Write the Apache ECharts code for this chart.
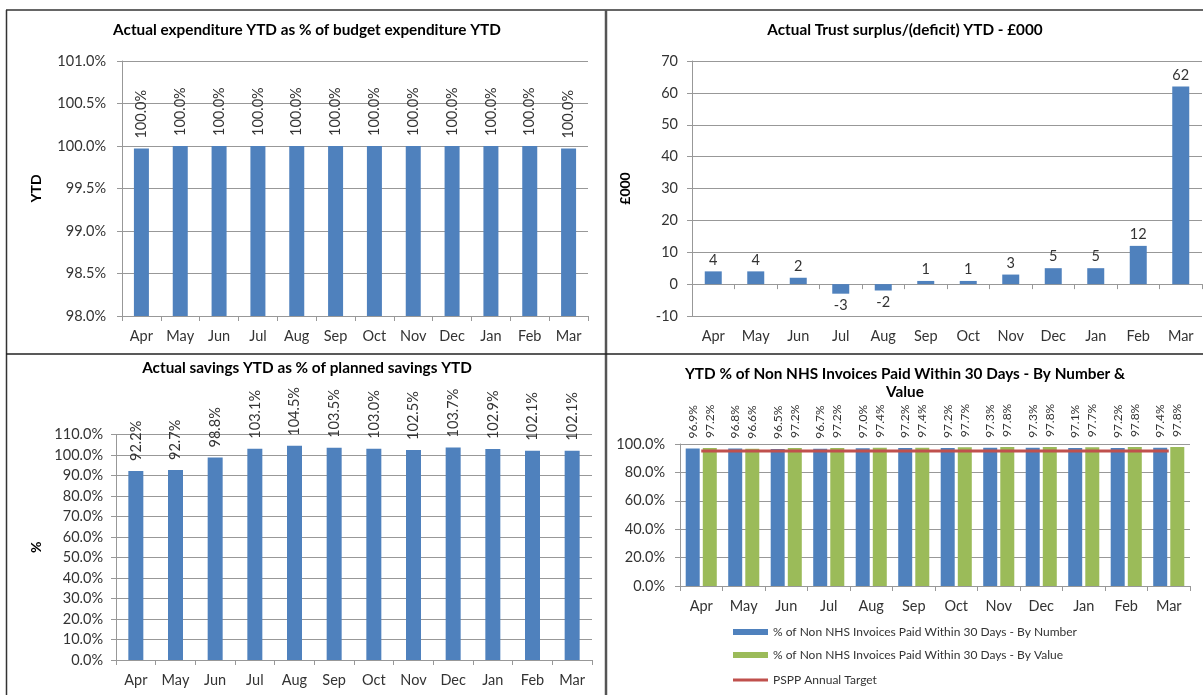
<!DOCTYPE html>
<html>
<head>
<meta charset="utf-8">
<title>Finance dashboard</title>
<script src="https://cdn.jsdelivr.net/npm/echarts@6/dist/echarts.min.js"></script>
<style>
  html, body { margin: 0; padding: 0; background: #ffffff; }
  #chart { width: 1203px; height: 695px; }
</style>
</head>
<body>
<div id="chart"></div>
<script>
// Months of the financial year
const months = ['Apr', 'May', 'Jun', 'Jul', 'Aug', 'Sep', 'Oct', 'Nov', 'Dec', 'Jan', 'Feb', 'Mar'];

// Actual expenditure YTD as % of budget expenditure YTD
const expenditurePct = [99.97, 100.0, 100.0, 100.0, 100.0, 100.0, 100.0, 100.0, 100.0, 100.0, 100.0, 99.97];

// Actual Trust surplus/(deficit) YTD, £000
const surplus = [4, 4, 2, -3, -2, 1, 1, 3, 5, 5, 12, 62];

// Actual savings YTD as % of planned savings YTD
const savingsPct = [92.2, 92.7, 98.8, 103.1, 104.5, 103.5, 103.0, 102.5, 103.7, 102.9, 102.1, 102.1];

// Non NHS invoices paid within 30 days (YTD %)
const invoicesByNumber = [96.9, 96.8, 96.5, 96.7, 97.0, 97.2, 97.2, 97.3, 97.3, 97.1, 97.2, 97.4];
const invoicesByValue = [97.2, 96.6, 97.2, 97.2, 97.4, 97.4, 97.7, 97.8, 97.8, 97.7, 97.8, 97.8];
const psppTarget = [95, 95, 95, 95, 95, 95, 95, 95, 95, 95, 95, 95];

const SERIES_NUMBER = '% of Non NHS Invoices Paid Within 30 Days - By Number';
const SERIES_VALUE = '% of Non NHS Invoices Paid Within 30 Days - By Value';
const SERIES_TARGET = 'PSPP Annual Target';

const FONT = 'Lato, "Open Sans", sans-serif';
const BLUE = '#4F81BD';
const GREEN = '#9BBB59';
const RED = '#C0504D';
const GRID_GRAY = '#989898';
const TEXT = '#333333';
const AXIS_FS = 14.5;

const pct1 = v => v.toFixed(1) + '%';

function catAxis(gridIndex, extra) {
  return Object.assign({
    type: 'category',
    gridIndex: gridIndex,
    data: months,
    boundaryGap: true,
    axisLine: { show: true, onZero: false, lineStyle: { color: GRID_GRAY, width: 1 } },
    axisTick: { show: true, length: 5, lineStyle: { color: GRID_GRAY } },
    axisLabel: { fontFamily: FONT, fontSize: AXIS_FS, color: TEXT, margin: 13, interval: 0 },
    splitLine: { show: false }
  }, extra || {});
}

function valAxis(gridIndex, min, max, interval, fmt, name, nameGap, margin) {
  return {
    type: 'value',
    gridIndex: gridIndex,
    min: min, max: max, interval: interval,
    name: name,
    nameLocation: 'middle',
    nameRotate: 90,
    nameGap: nameGap,
    nameTextStyle: { fontFamily: FONT, fontSize: 14, fontWeight: 'bold', color: '#000' },
    axisLine: { show: true, lineStyle: { color: GRID_GRAY, width: 1 } },
    axisTick: { show: true, length: 5, lineStyle: { color: GRID_GRAY } },
    axisLabel: { fontFamily: FONT, fontSize: AXIS_FS, color: TEXT, margin: margin, formatter: fmt },
    splitLine: { show: true, lineStyle: { color: GRID_GRAY, width: 1 } }
  };
}

function rotatedLabel(fontSize, distance) {
  return {
    show: true,
    position: 'top',
    rotate: 90,
    align: 'left',
    verticalAlign: 'middle',
    distance: distance,
    fontFamily: FONT,
    fontSize: fontSize,
    color: TEXT,
    formatter: p => pct1(p.value)
  };
}

// Surplus bars: labels sit above positive bars and below negative ones
const surplusData = surplus.map(v => ({
  value: v,
  label: { position: v < 0 ? 'bottom' : 'top' }
}));

const titleStyle = { fontFamily: FONT, fontSize: 15.3, fontWeight: 'bold', color: '#000' };

function legendFor(name, top, itemHeight) {
  return {
    orient: 'vertical',
    left: 733,
    top: top,
    padding: 0,
    itemWidth: 35,
    itemHeight: itemHeight,
    icon: 'rect',
    textStyle: { fontFamily: FONT, fontSize: 12, color: TEXT, lineHeight: 14 },
    data: [name]
  };
}

const option = {
  animation: false,
  backgroundColor: '#ffffff',
  title: [
    { text: 'Actual expenditure YTD as % of budget expenditure YTD', left: 307, top: 23, padding: 0, textAlign: 'center', textStyle: titleStyle },
    { text: 'Actual Trust surplus/(deficit) YTD - £000', left: 905, top: 23, padding: 0, textAlign: 'center', textStyle: titleStyle },
    { text: 'Actual savings YTD as % of planned savings YTD', left: 307, top: 361, padding: 0, textAlign: 'center', textStyle: titleStyle },
    { text: 'YTD % of Non NHS Invoices Paid Within 30 Days - By Number &\nValue', left: 905, top: 365, padding: 0, textAlign: 'center',
      textStyle: Object.assign({ lineHeight: 18 }, titleStyle) }
  ],
  legend: [
    legendFor(SERIES_NUMBER, 625, 6),
    legendFor(SERIES_VALUE, 648, 6),
    legendFor(SERIES_TARGET, 673, 3)
  ],
  grid: [
    { left: 122, top: 61, width: 466, height: 255 },
    { left: 692, top: 61, width: 510, height: 255 },
    { left: 116, top: 434.5, width: 476, height: 225.5 },
    { left: 680, top: 444, width: 510, height: 142 }
  ],
  xAxis: [
    catAxis(0),
    // labels along the bottom of the surplus chart
    catAxis(1, { axisLine: { show: false, onZero: false }, axisTick: { show: false } }),
    // zero line of the surplus chart with its tick marks
    catAxis(1, {
      position: 'top',
      axisLine: { show: true, onZero: true, lineStyle: { color: GRID_GRAY, width: 1 } },
      axisTick: { show: true, inside: true, length: 5, lineStyle: { color: GRID_GRAY } },
      axisLabel: { show: false }
    }),
    catAxis(2),
    catAxis(3)
  ],
  yAxis: [
    valAxis(0, 98, 101, 0.5, pct1, 'YTD', 79, 16),
    valAxis(1, -10, 70, 10, v => String(v), '£000', 60, 14),
    valAxis(2, 0, 110, 10, pct1, '%', 73, 13),
    valAxis(3, 0, 100, 20, pct1, '', 0, 15)
  ],
  series: [
    {
      type: 'bar', xAxisIndex: 0, yAxisIndex: 0,
      data: expenditurePct, barWidth: 15,
      itemStyle: { color: BLUE },
      label: rotatedLabel(14.5, 10)
    },
    {
      type: 'bar', xAxisIndex: 1, yAxisIndex: 1,
      data: surplusData, barWidth: 17,
      itemStyle: { color: BLUE },
      label: { show: true, distance: 4, fontFamily: FONT, fontSize: 14.5, color: TEXT }
    },
    {
      type: 'bar', xAxisIndex: 3, yAxisIndex: 2,
      data: savingsPct, barWidth: 15,
      itemStyle: { color: BLUE },
      label: rotatedLabel(14.5, 10)
    },
    {
      name: SERIES_NUMBER,
      type: 'bar', xAxisIndex: 4, yAxisIndex: 3,
      data: invoicesByNumber, barWidth: 14, barGap: '22%',
      itemStyle: { color: BLUE },
      label: rotatedLabel(12, 10)
    },
    {
      name: SERIES_VALUE,
      type: 'bar', xAxisIndex: 4, yAxisIndex: 3,
      data: invoicesByValue, barWidth: 14, barGap: '22%',
      itemStyle: { color: GREEN },
      label: rotatedLabel(12, 10)
    },
    {
      name: SERIES_TARGET,
      type: 'line', xAxisIndex: 4, yAxisIndex: 3,
      data: psppTarget,
      symbol: 'none',
      lineStyle: { color: RED, width: 3 },
      itemStyle: { color: RED },
      z: 5
    }
  ],
  // panel frames
  graphic: [
    { type: 'line', shape: { x1: 6, y1: 10, x2: 1203, y2: 10 }, style: { stroke: '#333', lineWidth: 1.5 } },
    { type: 'line', shape: { x1: 6.5, y1: 10, x2: 6.5, y2: 695 }, style: { stroke: '#333', lineWidth: 1.5 } },
    { type: 'line', shape: { x1: 606, y1: 10, x2: 606, y2: 695 }, style: { stroke: '#555', lineWidth: 2.5 } },
    { type: 'line', shape: { x1: 6, y1: 354, x2: 1203, y2: 354 }, style: { stroke: '#222', lineWidth: 1.5 } }
  ]
};

const chart = echarts.init(document.getElementById('chart'), null, { renderer: 'canvas' });
chart.setOption(option);
</script>
</body>
</html>
